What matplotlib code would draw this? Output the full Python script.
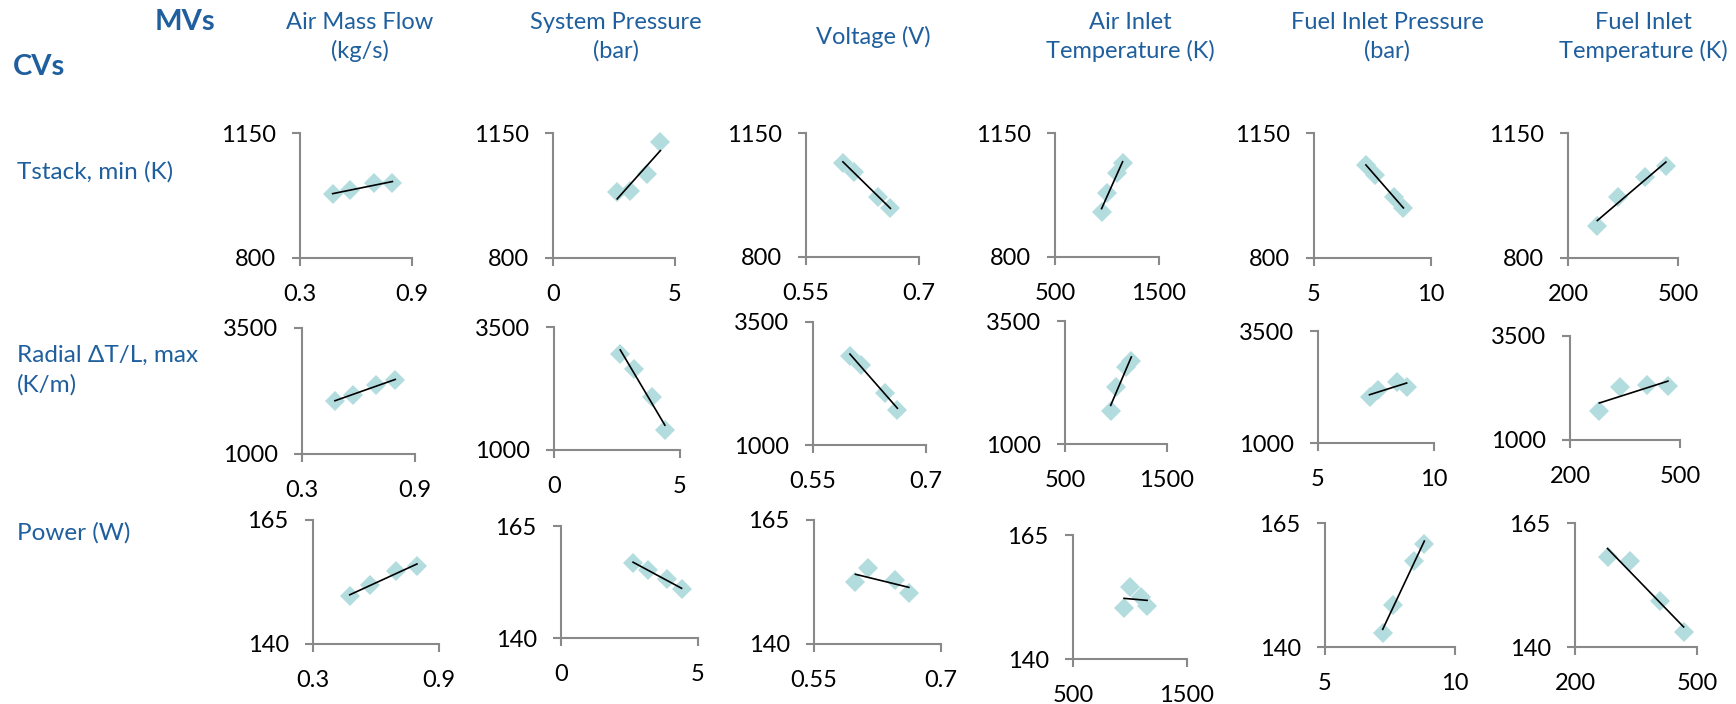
import numpy as np
import matplotlib.pyplot as plt

plt.rcParams['font.family'] = ['Lato', 'DejaVu Sans']

# manipulated variables (columns)
mv_names = ['Air Mass Flow\n(kg/s)', 'System Pressure\n(bar)', 'Voltage (V)',
            'Air Inlet\nTemperature (K)', 'Fuel Inlet Pressure\n(bar)',
            'Fuel Inlet\nTemperature (K)']
mv_limits = [(0.3, 0.9), (0, 5), (0.55, 0.7), (500, 1500), (5, 10), (200, 500)]
mv_ticklabels = [('0.3', '0.9'), ('0', '5'), ('0.55', '0.7'), ('500', '1500'),
                 ('5', '10'), ('200', '500')]

# controlled variables (rows)
cv_names = ['Tstack, min (K)', 'Radial ΔT/L, max\n(K/m)', 'Power (W)']
cv_limits = [(800, 1150), (1000, 3500), (140, 165)]
cv_ticklabels = [('800', '1150'), ('1000', '3500'), ('140', '165')]

# operating points of each MV
air_flow = [0.475, 0.57, 0.695, 0.795]
sys_pressure = [2.63, 3.17, 3.87, 4.4]
voltage = [0.599, 0.614, 0.646, 0.662]
air_temp = [948, 1000, 1095, 1150]
fuel_pressure = [7.22, 7.6, 8.42, 8.82]
fuel_temp = [280, 336, 410, 467]
mv_values = [air_flow, sys_pressure, voltage, air_temp, fuel_pressure, fuel_temp]

# CV response to each MV (one list per column)
tstack_min = [[978, 990, 1011, 1009], [986, 988, 1035, 1124],
              [1066, 1041, 970, 937], [928, 981, 1036, 1064],
              [1060, 1032, 972, 939], [890, 972, 1026, 1058]]
radial_dtdl = [[2058, 2171, 2369, 2468], [2951, 2640, 2071, 1406],
               [2809, 2626, 2063, 1711], [1676, 2164, 2559, 2693],
               [2020, 2183, 2368, 2257], [1704, 2281, 2322, 2298]]
power = [[149.7, 151.8, 154.8, 155.7], [156.8, 155.2, 153.1, 150.9],
         [152.4, 155.3, 153.0, 150.3], [150.2, 154.6, 152.6, 150.7],
         [142.9, 148.5, 157.4, 160.8], [158.2, 157.3, 149.3, 143.1]]
cv_values = [tstack_min, radial_dtdl, power]

W, H = 1736, 704
# panel boxes in pixels: (left, right, top, bottom)
boxes = [
    [(300, 412, 133, 258), (553, 675, 133, 258), (806, 919, 133, 257),
     (1055, 1159, 133, 257), (1314, 1431, 133, 258), (1568, 1678, 133, 258)],
    [(302, 415, 328, 454), (554, 680, 327, 450), (813, 926, 322, 445),
     (1065, 1167, 321, 444), (1318, 1434, 331, 443), (1570, 1680, 336, 440)],
    [(313, 439, 520, 644), (561, 698, 526, 638), (814, 941, 520, 644),
     (1073, 1187, 535, 659), (1325, 1455, 523, 647), (1575, 1697, 523, 647)],
]
head_x = [360, 616, 873, 1130, 1387, 1643]
row_y = [172, 370, 533]

blue = '#1F5F9E'
grey = '#898989'
marker_c = '#B3DCDF'

fig = plt.figure(figsize=(W / 100, H / 100), dpi=100)

fig.text(185 / W, 1 - 22 / H, 'MVs', color=blue, fontsize=21, fontweight='bold',
         ha='center', va='center')
fig.text(13 / W, 1 - 67 / H, 'CVs', color=blue, fontsize=21, fontweight='bold',
         ha='left', va='center')

for j, name in enumerate(mv_names):
    fig.text(head_x[j] / W, 1 - 37 / H, name, color=blue, fontsize=17,
             ha='center', va='center', linespacing=1.4)

for i, name in enumerate(cv_names):
    fig.text(17 / W, 1 - row_y[i] / H, name, color=blue, fontsize=17.5,
             ha='left', va='center', linespacing=1.45)

for i in range(3):
    for j in range(6):
        l, r, t, b = boxes[i][j]
        ax = fig.add_axes([l / W, 1 - b / H, (r - l) / W, (b - t) / H])
        x = np.array(mv_values[j])
        y = np.array(cv_values[i][j])
        ax.plot(x, y, linestyle='none', marker='D', markersize=10,
                color=marker_c, markeredgewidth=0, clip_on=False, zorder=2)
        k, c = np.polyfit(x, y, 1)
        xs = np.array([x.min(), x.max()])
        ax.plot(xs, k * xs + c, color='black', lw=1.2, zorder=3)

        ax.set_xlim(*mv_limits[j])
        ax.set_ylim(*cv_limits[i])
        ax.set_xticks(mv_limits[j])
        ax.set_xticklabels(mv_ticklabels[j])
        ax.set_yticks(cv_limits[i])
        ax.set_yticklabels(cv_ticklabels[i])

        ax.patch.set_alpha(0)
        for s in ['top', 'right']:
            ax.spines[s].set_visible(False)
        for s in ['left', 'bottom']:
            ax.spines[s].set_color(grey)
            ax.spines[s].set_linewidth(1.5)
        ax.tick_params(direction='out', length=5.5, width=1.5, color=grey,
                       labelsize=17, labelcolor='black')
        ax.tick_params(axis='x', pad=13)
        ax.tick_params(axis='y', pad=12)

fig.savefig('out.png', dpi=100)
